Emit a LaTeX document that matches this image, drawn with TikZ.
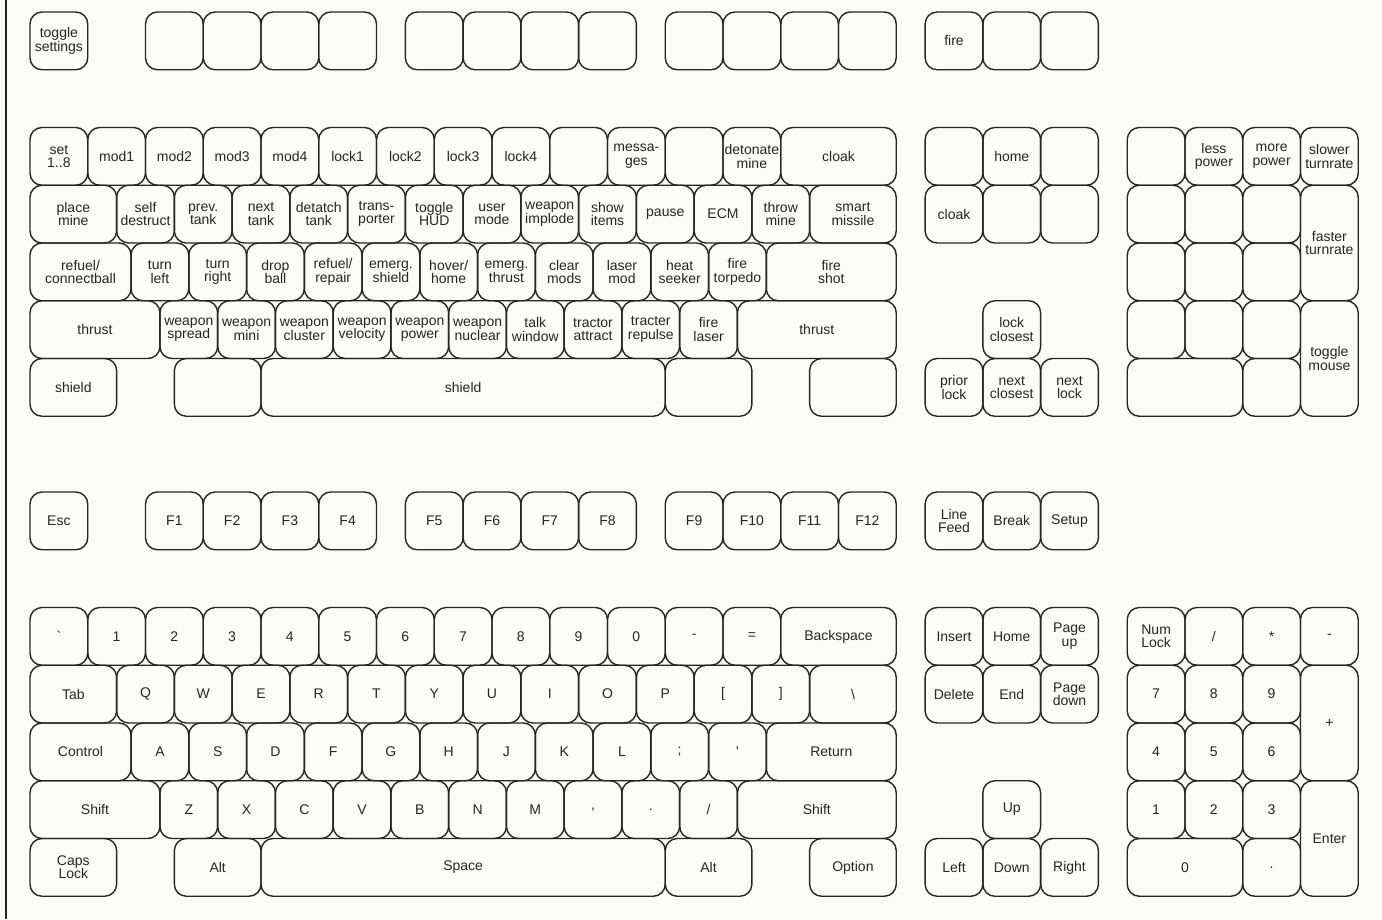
\documentclass[tikz,border=0pt]{standalone}
\usepackage{fontspec}
\setmainfont{Liberation Sans}
\definecolor{bg}{HTML}{FBFBF9}
\definecolor{ink}{HTML}{262626}
\newcommand\keyfont{\fontsize{14}{13.5}\selectfont}
\def\uu{57.75}
\newcommand\XX[1]{30+#1*\uu}
\newcommand\YA[1]{127.5+#1*\uu}
\newcommand\YB[1]{607.5+#1*\uu}
\newcommand\K[6]{\node[key,minimum width={#4*\uu*1pt},minimum height={#5*\uu*1pt}] (#1) at ({#2+#4*\uu/2},{#3+#5*\uu/2}) {#6};}
\tikzset{key/.style={draw=ink,line width=1.4pt,rounded corners=12pt,inner sep=0pt,align=center,font=\keyfont,text=ink}}
\begin{document}
\begin{tikzpicture}[x=1pt,y=-1pt]
\fill[bg] (0,0) rectangle (1382,919);
\useasboundingbox (0,0) rectangle (1382,919);
\coordinate (ft) at (6,0); \coordinate (fb) at (6,919);
\draw[ink,line width=1.2pt] (ft) -- (fb);
% ---------- upper function row ----------
\K{tset}{\XX{0}}{12}{1}{1}{toggle\\settings}
\K{ub1}{\XX{2}}{12}{1}{1}{}
\K{ub2}{\XX{3}}{12}{1}{1}{}
\K{ub3}{\XX{4}}{12}{1}{1}{}
\K{ub4}{\XX{5}}{12}{1}{1}{}
\K{ub5}{\XX{6.5}}{12}{1}{1}{}
\K{ub6}{\XX{7.5}}{12}{1}{1}{}
\K{ub7}{\XX{8.5}}{12}{1}{1}{}
\K{ub8}{\XX{9.5}}{12}{1}{1}{}
\K{ub9}{\XX{11}}{12}{1}{1}{}
\K{ub10}{\XX{12}}{12}{1}{1}{}
\K{ub11}{\XX{13}}{12}{1}{1}{}
\K{ub12}{\XX{14}}{12}{1}{1}{}
\K{ufire}{\XX{15.5}}{12}{1}{1}{fire}
\K{ub13}{\XX{16.5}}{12}{1}{1}{}
\K{ub14}{\XX{17.5}}{12}{1}{1}{}
% ---------- upper main row 1 ----------
\K{a0}{\XX{0}}{\YA{0}}{1}{1}{set\\1..8}
\K{a1}{\XX{1}}{\YA{0}}{1}{1}{mod1}
\K{a2}{\XX{2}}{\YA{0}}{1}{1}{mod2}
\K{a3}{\XX{3}}{\YA{0}}{1}{1}{mod3}
\K{a4}{\XX{4}}{\YA{0}}{1}{1}{mod4}
\K{a5}{\XX{5}}{\YA{0}}{1}{1}{lock1}
\K{a6}{\XX{6}}{\YA{0}}{1}{1}{lock2}
\K{a7}{\XX{7}}{\YA{0}}{1}{1}{lock3}
\K{a8}{\XX{8}}{\YA{0}}{1}{1}{lock4}
\K{a9}{\XX{9}}{\YA{0}}{1}{1}{}
\K{a10}{\XX{10}}{\YA{0}}{1}{1}{messa-\\ges}
\K{a11}{\XX{11}}{\YA{0}}{1}{1}{}
\K{a12}{\XX{12}}{\YA{0}}{1}{1}{detonate\\mine}
\K{a13}{\XX{13}}{\YA{0}}{2}{1}{cloak}
% row 2
\K{b0}{\XX{0}}{\YA{1}}{1.5}{1}{place\\mine}
\K{b1}{\XX{1.5}}{\YA{1}}{1}{1}{self\\destruct}
\K{b2}{\XX{2.5}}{\YA{1}}{1}{1}{prev.\\tank}
\K{b3}{\XX{3.5}}{\YA{1}}{1}{1}{next\\tank}
\K{b4}{\XX{4.5}}{\YA{1}}{1}{1}{detatch\\tank}
\K{b5}{\XX{5.5}}{\YA{1}}{1}{1}{trans-\\porter}
\K{b6}{\XX{6.5}}{\YA{1}}{1}{1}{toggle\\HUD}
\K{b7}{\XX{7.5}}{\YA{1}}{1}{1}{user\\mode}
\K{b8}{\XX{8.5}}{\YA{1}}{1}{1}{weapon\\implode}
\K{b9}{\XX{9.5}}{\YA{1}}{1}{1}{show\\items}
\K{b10}{\XX{10.5}}{\YA{1}}{1}{1}{pause}
\K{b11}{\XX{11.5}}{\YA{1}}{1}{1}{ECM}
\K{b12}{\XX{12.5}}{\YA{1}}{1}{1}{throw\\mine}
\K{b13}{\XX{13.5}}{\YA{1}}{1.5}{1}{smart\\missile}
% row 3
\K{c0}{\XX{0}}{\YA{2}}{1.75}{1}{refuel/\\connectball}
\K{c1}{\XX{1.75}}{\YA{2}}{1}{1}{turn\\left}
\K{c2}{\XX{2.75}}{\YA{2}}{1}{1}{turn\\right}
\K{c3}{\XX{3.75}}{\YA{2}}{1}{1}{drop\\ball}
\K{c4}{\XX{4.75}}{\YA{2}}{1}{1}{refuel/\\repair}
\K{c5}{\XX{5.75}}{\YA{2}}{1}{1}{emerg.\\shield}
\K{c6}{\XX{6.75}}{\YA{2}}{1}{1}{hover/\\home}
\K{c7}{\XX{7.75}}{\YA{2}}{1}{1}{emerg.\\thrust}
\K{c8}{\XX{8.75}}{\YA{2}}{1}{1}{clear\\mods}
\K{c9}{\XX{9.75}}{\YA{2}}{1}{1}{laser\\mod}
\K{c10}{\XX{10.75}}{\YA{2}}{1}{1}{heat\\seeker}
\K{c11}{\XX{11.75}}{\YA{2}}{1}{1}{fire\\torpedo}
\K{c12}{\XX{12.75}}{\YA{2}}{2.25}{1}{fire\\shot}
% row 4
\K{d0}{\XX{0}}{\YA{3}}{2.25}{1}{thrust}
\K{d1}{\XX{2.25}}{\YA{3}}{1}{1}{weapon\\spread}
\K{d2}{\XX{3.25}}{\YA{3}}{1}{1}{weapon\\mini}
\K{d3}{\XX{4.25}}{\YA{3}}{1}{1}{weapon\\cluster}
\K{d4}{\XX{5.25}}{\YA{3}}{1}{1}{weapon\\velocity}
\K{d5}{\XX{6.25}}{\YA{3}}{1}{1}{weapon\\power}
\K{d6}{\XX{7.25}}{\YA{3}}{1}{1}{weapon\\nuclear}
\K{d7}{\XX{8.25}}{\YA{3}}{1}{1}{talk\\window}
\K{d8}{\XX{9.25}}{\YA{3}}{1}{1}{tractor\\attract}
\K{d9}{\XX{10.25}}{\YA{3}}{1}{1}{tracter\\repulse}
\K{d10}{\XX{11.25}}{\YA{3}}{1}{1}{fire\\laser}
\K{d11}{\XX{12.25}}{\YA{3}}{2.75}{1}{thrust}
% row 5
\K{e0}{\XX{0}}{\YA{4}}{1.5}{1}{shield}
\K{e1}{\XX{2.5}}{\YA{4}}{1.5}{1}{}
\K{e2}{\XX{4}}{\YA{4}}{7}{1}{shield}
\K{e3}{\XX{11}}{\YA{4}}{1.5}{1}{}
\K{e4}{\XX{13.5}}{\YA{4}}{1.5}{1}{}
% upper navigation
\K{n0}{\XX{15.5}}{\YA{0}}{1}{1}{}
\K{n1}{\XX{16.5}}{\YA{0}}{1}{1}{home}
\K{n2}{\XX{17.5}}{\YA{0}}{1}{1}{}
\K{n3}{\XX{15.5}}{\YA{1}}{1}{1}{cloak}
\K{n4}{\XX{16.5}}{\YA{1}}{1}{1}{}
\K{n5}{\XX{17.5}}{\YA{1}}{1}{1}{}
\K{n6}{\XX{16.5}}{\YA{3}}{1}{1}{lock\\closest}
\K{n7}{\XX{15.5}}{\YA{4}}{1}{1}{prior\\lock}
\K{n8}{\XX{16.5}}{\YA{4}}{1}{1}{next\\closest}
\K{n9}{\XX{17.5}}{\YA{4}}{1}{1}{next\\lock}
% upper keypad
\K{p0}{\XX{19}}{\YA{0}}{1}{1}{}
\K{p1}{\XX{20}}{\YA{0}}{1}{1}{less\\power}
\K{p2}{\XX{21}}{\YA{0}}{1}{1}{more\\power}
\K{p3}{\XX{22}}{\YA{0}}{1}{1}{slower\\turnrate}
\K{p4}{\XX{19}}{\YA{1}}{1}{1}{}
\K{p5}{\XX{20}}{\YA{1}}{1}{1}{}
\K{p6}{\XX{21}}{\YA{1}}{1}{1}{}
\K{p7}{\XX{22}}{\YA{1}}{1}{2}{faster\\turnrate}
\K{p8}{\XX{19}}{\YA{2}}{1}{1}{}
\K{p9}{\XX{20}}{\YA{2}}{1}{1}{}
\K{p10}{\XX{21}}{\YA{2}}{1}{1}{}
\K{p11}{\XX{19}}{\YA{3}}{1}{1}{}
\K{p12}{\XX{20}}{\YA{3}}{1}{1}{}
\K{p13}{\XX{21}}{\YA{3}}{1}{1}{}
\K{p14}{\XX{22}}{\YA{3}}{1}{2}{toggle\\mouse}
\K{p15}{\XX{19}}{\YA{4}}{2}{1}{}
\K{p16}{\XX{21}}{\YA{4}}{1}{1}{}
% ---------- lower function row ----------
\K{esc}{\XX{0}}{492}{1}{1}{Esc}
\K{f1}{\XX{2}}{492}{1}{1}{F1}
\K{f2}{\XX{3}}{492}{1}{1}{F2}
\K{f3}{\XX{4}}{492}{1}{1}{F3}
\K{f4}{\XX{5}}{492}{1}{1}{F4}
\K{f5}{\XX{6.5}}{492}{1}{1}{F5}
\K{f6}{\XX{7.5}}{492}{1}{1}{F6}
\K{f7}{\XX{8.5}}{492}{1}{1}{F7}
\K{f8}{\XX{9.5}}{492}{1}{1}{F8}
\K{f9}{\XX{11}}{492}{1}{1}{F9}
\K{f10}{\XX{12}}{492}{1}{1}{F10}
\K{f11}{\XX{13}}{492}{1}{1}{F11}
\K{f12}{\XX{14}}{492}{1}{1}{F12}
\K{lf}{\XX{15.5}}{492}{1}{1}{Line\\Feed}
\K{brk}{\XX{16.5}}{492}{1}{1}{Break}
\K{setup}{\XX{17.5}}{492}{1}{1}{Setup}
% lower main row 1
\K{g0}{\XX{0}}{\YB{0}}{1}{1}{\textasciigrave}
\K{g1}{\XX{1}}{\YB{0}}{1}{1}{1}
\K{g2}{\XX{2}}{\YB{0}}{1}{1}{2}
\K{g3}{\XX{3}}{\YB{0}}{1}{1}{3}
\K{g4}{\XX{4}}{\YB{0}}{1}{1}{4}
\K{g5}{\XX{5}}{\YB{0}}{1}{1}{5}
\K{g6}{\XX{6}}{\YB{0}}{1}{1}{6}
\K{g7}{\XX{7}}{\YB{0}}{1}{1}{7}
\K{g8}{\XX{8}}{\YB{0}}{1}{1}{8}
\K{g9}{\XX{9}}{\YB{0}}{1}{1}{9}
\K{g10}{\XX{10}}{\YB{0}}{1}{1}{0}
\K{g11}{\XX{11}}{\YB{0}}{1}{1}{-}
\K{g12}{\XX{12}}{\YB{0}}{1}{1}{=}
\K{g13}{\XX{13}}{\YB{0}}{2}{1}{Backspace}
% row 2
\K{h0}{\XX{0}}{\YB{1}}{1.5}{1}{Tab}
\K{h1}{\XX{1.5}}{\YB{1}}{1}{1}{Q}
\K{h2}{\XX{2.5}}{\YB{1}}{1}{1}{W}
\K{h3}{\XX{3.5}}{\YB{1}}{1}{1}{E}
\K{h4}{\XX{4.5}}{\YB{1}}{1}{1}{R}
\K{h5}{\XX{5.5}}{\YB{1}}{1}{1}{T}
\K{h6}{\XX{6.5}}{\YB{1}}{1}{1}{Y}
\K{h7}{\XX{7.5}}{\YB{1}}{1}{1}{U}
\K{h8}{\XX{8.5}}{\YB{1}}{1}{1}{I}
\K{h9}{\XX{9.5}}{\YB{1}}{1}{1}{O}
\K{h10}{\XX{10.5}}{\YB{1}}{1}{1}{P}
\K{h11}{\XX{11.5}}{\YB{1}}{1}{1}{[}
\K{h12}{\XX{12.5}}{\YB{1}}{1}{1}{]}
\K{h13}{\XX{13.5}}{\YB{1}}{1.5}{1}{\textbackslash}
% row 3
\K{i0}{\XX{0}}{\YB{2}}{1.75}{1}{Control}
\K{i1}{\XX{1.75}}{\YB{2}}{1}{1}{A}
\K{i2}{\XX{2.75}}{\YB{2}}{1}{1}{S}
\K{i3}{\XX{3.75}}{\YB{2}}{1}{1}{D}
\K{i4}{\XX{4.75}}{\YB{2}}{1}{1}{F}
\K{i5}{\XX{5.75}}{\YB{2}}{1}{1}{G}
\K{i6}{\XX{6.75}}{\YB{2}}{1}{1}{H}
\K{i7}{\XX{7.75}}{\YB{2}}{1}{1}{J}
\K{i8}{\XX{8.75}}{\YB{2}}{1}{1}{K}
\K{i9}{\XX{9.75}}{\YB{2}}{1}{1}{L}
\K{i10}{\XX{10.75}}{\YB{2}}{1}{1}{;}
\K{i11}{\XX{11.75}}{\YB{2}}{1}{1}{\textquotesingle}
\K{i12}{\XX{12.75}}{\YB{2}}{2.25}{1}{Return}
% row 4
\K{j0}{\XX{0}}{\YB{3}}{2.25}{1}{Shift}
\K{j1}{\XX{2.25}}{\YB{3}}{1}{1}{Z}
\K{j2}{\XX{3.25}}{\YB{3}}{1}{1}{X}
\K{j3}{\XX{4.25}}{\YB{3}}{1}{1}{C}
\K{j4}{\XX{5.25}}{\YB{3}}{1}{1}{V}
\K{j5}{\XX{6.25}}{\YB{3}}{1}{1}{B}
\K{j6}{\XX{7.25}}{\YB{3}}{1}{1}{N}
\K{j7}{\XX{8.25}}{\YB{3}}{1}{1}{M}
\K{j8}{\XX{9.25}}{\YB{3}}{1}{1}{,}
\K{j9}{\XX{10.25}}{\YB{3}}{1}{1}{.}
\K{j10}{\XX{11.25}}{\YB{3}}{1}{1}{/}
\K{j11}{\XX{12.25}}{\YB{3}}{2.75}{1}{Shift}
% row 5
\K{k0}{\XX{0}}{\YB{4}}{1.5}{1}{Caps\\Lock}
\K{k1}{\XX{2.5}}{\YB{4}}{1.5}{1}{Alt}
\K{k2}{\XX{4}}{\YB{4}}{7}{1}{Space}
\K{k3}{\XX{11}}{\YB{4}}{1.5}{1}{Alt}
\K{k4}{\XX{13.5}}{\YB{4}}{1.5}{1}{Option}
% lower navigation
\K{m0}{\XX{15.5}}{\YB{0}}{1}{1}{Insert}
\K{m1}{\XX{16.5}}{\YB{0}}{1}{1}{Home}
\K{m2}{\XX{17.5}}{\YB{0}}{1}{1}{Page\\up}
\K{m3}{\XX{15.5}}{\YB{1}}{1}{1}{Delete}
\K{m4}{\XX{16.5}}{\YB{1}}{1}{1}{End}
\K{m5}{\XX{17.5}}{\YB{1}}{1}{1}{Page\\down}
\K{m6}{\XX{16.5}}{\YB{3}}{1}{1}{Up}
\K{m7}{\XX{15.5}}{\YB{4}}{1}{1}{Left}
\K{m8}{\XX{16.5}}{\YB{4}}{1}{1}{Down}
\K{m9}{\XX{17.5}}{\YB{4}}{1}{1}{Right}
% lower keypad
\K{q0}{\XX{19}}{\YB{0}}{1}{1}{Num\\Lock}
\K{q1}{\XX{20}}{\YB{0}}{1}{1}{/}
\K{q2}{\XX{21}}{\YB{0}}{1}{1}{*}
\K{q3}{\XX{22}}{\YB{0}}{1}{1}{-}
\K{q4}{\XX{19}}{\YB{1}}{1}{1}{7}
\K{q5}{\XX{20}}{\YB{1}}{1}{1}{8}
\K{q6}{\XX{21}}{\YB{1}}{1}{1}{9}
\K{q7}{\XX{22}}{\YB{1}}{1}{2}{+}
\K{q8}{\XX{19}}{\YB{2}}{1}{1}{4}
\K{q9}{\XX{20}}{\YB{2}}{1}{1}{5}
\K{q10}{\XX{21}}{\YB{2}}{1}{1}{6}
\K{q11}{\XX{19}}{\YB{3}}{1}{1}{1}
\K{q12}{\XX{20}}{\YB{3}}{1}{1}{2}
\K{q13}{\XX{21}}{\YB{3}}{1}{1}{3}
\K{q14}{\XX{22}}{\YB{3}}{1}{2}{Enter}
\K{q15}{\XX{19}}{\YB{4}}{2}{1}{0}
\K{q16}{\XX{21}}{\YB{4}}{1}{1}{.}
\end{tikzpicture}
\end{document}
